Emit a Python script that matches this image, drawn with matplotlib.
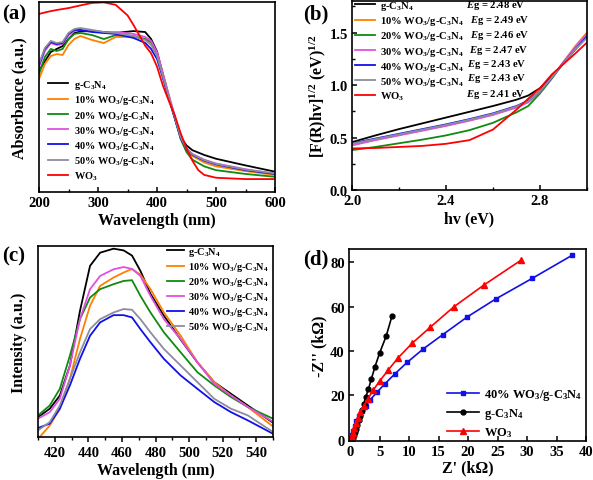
import matplotlib
matplotlib.use("Agg")
import matplotlib.pyplot as plt
from matplotlib.ticker import MultipleLocator

plt.rcParams["font.family"] = ["Liberation Serif", "DejaVu Serif"]
plt.rcParams["font.weight"] = "bold"
plt.rcParams["axes.labelweight"] = "bold"
plt.rcParams["mathtext.fontset"] = "custom"
plt.rcParams["mathtext.rm"] = "Liberation Serif:bold"
plt.rcParams["mathtext.bf"] = "Liberation Serif:bold"
plt.rcParams["mathtext.it"] = "Liberation Serif:italic:bold"
plt.rcParams["axes.linewidth"] = 1.2

# ---- sample names / colours ----
names = ["g-C$_3$N$_4$", "10% WO$_3$/g-C$_3$N$_4$", "20% WO$_3$/g-C$_3$N$_4$",
         "30% WO$_3$/g-C$_3$N$_4$", "40% WO$_3$/g-C$_3$N$_4$", "50% WO$_3$/g-C$_3$N$_4$"]
colors = ["#000000", "#FF8000", "#108A10", "#E050E0", "#1010E8", "#8C8CA0"]
wo3_name = "WO$_3$"
wo3_color = "#FF0000"

# ---- (a) UV-vis absorbance ----
wl_uv = [200, 210, 220, 230, 240, 250, 260, 270, 290, 310, 330, 360, 380, 390,
         400, 410, 420, 430, 440, 450, 460, 480, 500, 550, 600]
abs_gcn = [0.637, 0.689, 0.737, 0.753, 0.768, 0.805, 0.837, 0.845, 0.847, 0.842, 0.837, 0.847, 0.842,
           0.805, 0.74, 0.62, 0.50, 0.39, 0.29, 0.245, 0.22, 0.195, 0.175, 0.14, 0.107]
abs_10 = [0.595, 0.674, 0.716, 0.726, 0.721, 0.774, 0.805, 0.821, 0.800, 0.784, 0.816, 0.816, 0.805,
          0.789, 0.73, 0.62, 0.51, 0.40, 0.29, 0.225, 0.19, 0.155, 0.135, 0.11, 0.09]
abs_20 = [0.621, 0.711, 0.753, 0.742, 0.753, 0.805, 0.832, 0.837, 0.826, 0.805, 0.826, 0.821, 0.805,
          0.789, 0.725, 0.615, 0.50, 0.39, 0.28, 0.21, 0.17, 0.135, 0.115, 0.095, 0.08]
abs_30 = [0.658, 0.742, 0.784, 0.774, 0.779, 0.826, 0.847, 0.853, 0.847, 0.837, 0.842, 0.832, 0.816,
          0.795, 0.735, 0.625, 0.51, 0.40, 0.29, 0.23, 0.20, 0.17, 0.15, 0.12, 0.095]
abs_40 = [0.668, 0.753, 0.789, 0.779, 0.784, 0.832, 0.853, 0.853, 0.842, 0.837, 0.832, 0.811, 0.785,
          0.753, 0.70, 0.60, 0.49, 0.39, 0.285, 0.225, 0.195, 0.165, 0.145, 0.115, 0.095]
abs_50 = [0.674, 0.758, 0.795, 0.784, 0.789, 0.837, 0.858, 0.863, 0.853, 0.842, 0.837, 0.821, 0.80,
          0.774, 0.715, 0.61, 0.50, 0.395, 0.29, 0.228, 0.198, 0.168, 0.148, 0.118, 0.098]
wl_wo3 = [200, 210, 220, 230, 240, 250, 260, 270, 290, 310, 330, 350, 360, 380, 390, 400,
          410, 420, 430, 440, 450, 460, 470, 480, 500, 550, 600]
abs_wo3 = [0.937, 0.945, 0.952, 0.958, 0.963, 0.968, 0.975, 0.982, 0.995, 0.998, 0.985, 0.93, 0.88,
           0.77, 0.73, 0.66, 0.56, 0.48, 0.405, 0.31, 0.23, 0.165, 0.115, 0.09, 0.075, 0.068, 0.068]

# ---- (b) Tauc plot ----
hv = [2.0, 2.1, 2.2, 2.3, 2.4, 2.5, 2.6, 2.7, 2.75, 2.8, 2.85, 2.9, 2.95, 3.0]
tauc_gcn = [0.456, 0.52, 0.58, 0.635, 0.69, 0.745, 0.80, 0.86, 0.90, 0.97, 1.08, 1.21, 1.34, 1.46]
tauc_10 = [0.43, 0.48, 0.525, 0.57, 0.615, 0.665, 0.72, 0.79, 0.84, 0.94, 1.07, 1.22, 1.37, 1.50]
tauc_20 = [0.38, 0.41, 0.445, 0.48, 0.52, 0.57, 0.64, 0.74, 0.80, 0.92, 1.06, 1.21, 1.35, 1.48]
tauc_30 = [0.425, 0.475, 0.52, 0.565, 0.61, 0.66, 0.715, 0.785, 0.835, 0.935, 1.07, 1.22, 1.36, 1.49]
tauc_40 = [0.445, 0.49, 0.535, 0.58, 0.625, 0.675, 0.73, 0.80, 0.85, 0.94, 1.07, 1.21, 1.34, 1.46]
tauc_50 = [0.44, 0.485, 0.53, 0.575, 0.62, 0.67, 0.725, 0.795, 0.845, 0.94, 1.07, 1.21, 1.34, 1.45]
tauc_wo3 = [0.396, 0.40, 0.41, 0.42, 0.44, 0.475, 0.576, 0.766, 0.87, 0.97, 1.10, 1.20, 1.30, 1.405]
eg_values = ["2.48", "2.49", "2.46", "2.47", "2.43", "2.43", "2.41"]

# ---- (c) PL spectra ----
wl_pl = [410, 417, 423, 429, 435, 441, 447, 455, 461, 466, 471, 477, 485, 495, 505, 515, 525, 535, 550]
pl_gcn = [0.104, 0.148, 0.217, 0.374, 0.66, 0.896, 0.965, 0.986, 0.977, 0.95, 0.87, 0.75, 0.635,
          0.51, 0.39, 0.287, 0.226, 0.165, 0.075]
pl_10 = [-0.01, 0.06, 0.148, 0.304, 0.513, 0.687, 0.791, 0.835, 0.861, 0.88, 0.85, 0.774, 0.652,
         0.53, 0.391, 0.287, 0.217, 0.157, 0.055]
pl_20 = [0.113, 0.165, 0.252, 0.426, 0.617, 0.73, 0.774, 0.80, 0.817, 0.821, 0.739, 0.652, 0.548,
         0.443, 0.339, 0.27, 0.209, 0.157, 0.096]
pl_30 = [0.096, 0.13, 0.20, 0.374, 0.617, 0.774, 0.843, 0.878, 0.89, 0.88, 0.843, 0.739, 0.617,
         0.513, 0.391, 0.278, 0.217, 0.157, 0.08]
pl_40 = [0.047, 0.07, 0.148, 0.27, 0.409, 0.53, 0.60, 0.638, 0.638, 0.626, 0.565, 0.496, 0.409,
         0.322, 0.252, 0.183, 0.13, 0.087, 0.017]
pl_50 = [0.035, 0.078, 0.165, 0.304, 0.443, 0.565, 0.617, 0.652, 0.67, 0.666, 0.617, 0.548, 0.461,
         0.374, 0.287, 0.20, 0.148, 0.113, 0.026]

# ---- (d) Nyquist plots (kOhm) ----
zre_40 = [0.23, 0.34, 0.51, 0.74, 1.03, 1.42, 1.94, 2.6, 3.4, 4.56, 5.9, 7.6, 9.7, 12.4, 15.7, 19.8, 24.7, 30.9, 37.6]
zim_40 = [0.6, 2.1, 4.0, 6.3, 8.5, 10.8, 12.9, 15.3, 18.1, 21.5, 25.3, 29.8, 35.0, 41.0, 47.4, 55.3, 63.5, 72.8, 83.1]
zre_gcn = [0.46, 0.63, 0.80, 0.97, 1.14, 1.42, 1.65, 1.94, 2.3, 2.6, 3.1, 3.6, 4.2, 5.0, 6.1, 7.1]
zim_gcn = [0.7, 2.1, 3.6, 5.1, 6.9, 8.8, 10.9, 13.3, 16.0, 19.1, 22.9, 27.5, 32.9, 39.2, 46.7, 55.9]
zre_wo3 = [0.28, 0.46, 0.68, 0.97, 1.3, 1.7, 2.3, 3.0, 3.9, 5.0, 6.4, 8.1, 10.5, 13.6, 17.6, 22.7, 29.0]
zim_wo3 = [1.3, 3.3, 5.5, 7.8, 10.0, 12.6, 15.3, 18.5, 22.4, 26.5, 31.3, 36.9, 43.5, 50.8, 60.0, 69.8, 81.0]

W, H = 593, 481
fig = plt.figure(figsize=(W / 100, H / 100), dpi=100)


def px_axes(left, top, right, bottom):
    return fig.add_axes([left / W, 1 - bottom / H, (right - left) / W, (bottom - top) / H])


ax_a = px_axes(39, 3, 275, 193)
ax_b = px_axes(352, 2, 587, 191)
ax_c = px_axes(38, 247, 273, 438)
ax_d = px_axes(349, 250, 586, 442)

tick_fs = 10.5
label_fs = 11.5
leg_fs = 7.7
leg_small = 7.4

# (a)
for y, c, n in zip([abs_gcn, abs_10, abs_20, abs_30, abs_40, abs_50], colors, names):
    ax_a.plot(wl_uv, y, color=c, lw=1.3, label=n)
ax_a.plot(wl_wo3, abs_wo3, color=wo3_color, lw=1.3, label=wo3_name)
ax_a.set_xlim(200, 600)
ax_a.set_ylim(0, 1.0)
ax_a.set_yticks([])
ax_a.xaxis.set_major_locator(MultipleLocator(100))
ax_a.xaxis.set_minor_locator(MultipleLocator(50))
ax_a.set_xlabel("Wavelength (nm)", fontsize=label_fs, labelpad=2)
ax_a.set_ylabel("Absorbance (a.u.)", fontsize=label_fs, labelpad=8)
ax_a.legend(loc="upper left", bbox_to_anchor=(0.04, 0.60), frameon=False, fontsize=leg_small,
            handlelength=1.9, handletextpad=0.55, labelspacing=0.22, borderpad=0, borderaxespad=0)

# (b)
for y, c, n in zip([tauc_gcn, tauc_10, tauc_20, tauc_30, tauc_40, tauc_50], colors, names):
    ax_b.plot(hv, y, color=c, lw=1.3, label=n)
ax_b.plot(hv, tauc_wo3, color=wo3_color, lw=1.3, label=wo3_name)
ax_b.set_xlim(2.0, 3.0)
ax_b.set_ylim(0, 1.8)
ax_b.xaxis.set_major_locator(MultipleLocator(0.4))
ax_b.xaxis.set_minor_locator(MultipleLocator(0.2))
ax_b.yaxis.set_major_locator(MultipleLocator(0.5))
ax_b.yaxis.set_minor_locator(MultipleLocator(0.25))
ax_b.set_xlabel("hv (eV)", fontsize=label_fs, labelpad=2)
ax_b.set_ylabel("[F(R)hv]$^{1/2}$ (eV)$^{1/2}$", fontsize=label_fs, labelpad=1)
ax_b.legend(loc="upper left", bbox_to_anchor=(0.012, 1.01), frameon=False, fontsize=leg_fs,
            handlelength=1.9, handletextpad=0.5, labelspacing=0.2, borderpad=0, borderaxespad=0)
eg_x = [0.484, 0.502, 0.502, 0.499, 0.491, 0.491, 0.484]
eg_y = [0.980, 0.901, 0.825, 0.746, 0.670, 0.593, 0.512]
for x, y, v in zip(eg_x, eg_y, eg_values):
    ax_b.text(x, y, "$\\mathit{E}$g = " + v + " eV", transform=ax_b.transAxes,
              fontsize=leg_fs, va="center", ha="left")

# (c)
for y, c, n in zip([pl_gcn, pl_10, pl_20, pl_30, pl_40, pl_50], colors, names):
    ax_c.plot(wl_pl, y, color=c, lw=1.3, label=n)
ax_c.set_xlim(410, 550)
ax_c.set_ylim(0, 1.0)
ax_c.set_yticks([])
ax_c.xaxis.set_major_locator(MultipleLocator(20))
ax_c.xaxis.set_minor_locator(MultipleLocator(10))
ax_c.set_xlabel("Wavelength (nm)", fontsize=label_fs, labelpad=2)
ax_c.set_ylabel("Intensity (a.u.)", fontsize=label_fs, labelpad=8)
ax_c.legend(loc="upper left", bbox_to_anchor=(0.55, 1.005), frameon=False, fontsize=leg_small,
            handlelength=1.6, handletextpad=0.4, labelspacing=0.2, borderpad=0, borderaxespad=0)

# (d)
ax_d.plot(zre_40, zim_40, color="#1010E8", lw=1.2, marker="s", ms=3.5, label=names[4])
ax_d.plot(zre_gcn, zim_gcn, color="#000000", lw=1.2, marker="o", ms=3.5, label=names[0])
ax_d.plot(zre_wo3, zim_wo3, color=wo3_color, lw=1.2, marker="^", ms=4, label=wo3_name)
ax_d.set_xlim(-0.2, 40)
ax_d.set_ylim(-0.5, 86)
ax_d.xaxis.set_major_locator(MultipleLocator(5))
ax_d.yaxis.set_major_locator(MultipleLocator(20))
ax_d.set_xlabel("Z' (k\u03a9)", fontsize=label_fs, labelpad=1)
ax_d.set_ylabel("-Z'' (k\u03a9)", fontsize=label_fs, labelpad=2)
ax_d.legend(loc="lower right", bbox_to_anchor=(0.985, 0.012), frameon=False, fontsize=9,
            handlelength=2.6, handletextpad=0.4, labelspacing=0.3, borderpad=0, borderaxespad=0)

for ax in (ax_a, ax_b, ax_c, ax_d):
    ax.tick_params(which="major", direction="in", length=3.5, width=1.1, labelsize=tick_fs, pad=3)
    ax.tick_params(which="minor", direction="in", length=2, width=1.0)
ax_c.tick_params(which="both", direction="out")

for ax, lab, x, y in [(ax_a, "(a)", 2, 4), (ax_b, "(b)", 303, 4), (ax_c, "(c)", 2, 246), (ax_d, "(d)", 303, 249)]:
    fig.text(x / W, 1 - y / H, lab, fontsize=15, ha="left", va="top")

fig.savefig("out.png", dpi=100)
